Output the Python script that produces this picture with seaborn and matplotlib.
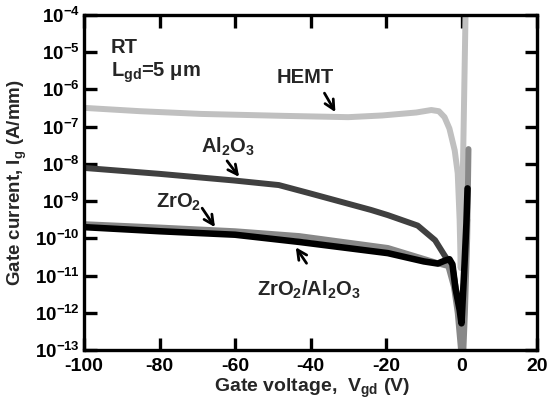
import matplotlib
matplotlib.use("Agg")
import matplotlib.pyplot as plt
import seaborn as sns
import pandas as pd
import numpy as np

# valores (V en voltios, I en A/mm)
v_hemt = [-100, -85, -69, -47, -30, -21, -12, -8, -6, -4.5, -3.2, -1.8, -1.0, -0.5, -0.2, 0.4, 1.1]
i_hemt = [3.2e-7, 2.6e-7, 2.2e-7, 1.95e-7, 1.8e-7, 2.0e-7, 2.4e-7, 2.8e-7, 2.6e-7,
          1.8e-7, 8.9e-8, 2.3e-8, 5.6e-9, 3.2e-10, 1.6e-11, 1e-8, 1.6e-4]

v_al2o3 = [-100, -80, -60.5, -48.4, -40, -24, -19.5, -11.6, -7, -4.5, -2.4, -1.5, -0.5, 0, 0.8, 1.5]
i_al2o3 = [7.8e-9, 5.4e-9, 3.6e-9, 2.7e-9, 1.6e-9, 5.8e-10, 4.2e-10, 2.2e-10, 8.9e-11,
           3.5e-11, 1.7e-11, 4.5e-12, 1.3e-12, 7.9e-13, 1e-11, 3.2e-10]

v_zro2 = [-100, -80, -60, -43, -19.5, -10, -6, -3.5, -2, -1, -0.3, 0.3, 0.9, 1.5, 1.85]
i_zro2 = [2.4e-10, 1.95e-10, 1.55e-10, 1.15e-10, 5.5e-11, 2.8e-11, 2.1e-11, 1.8e-11, 5.0e-12,
          1e-12, 1.6e-13, 3.2e-14, 1e-12, 1e-10, 2.5e-8]

v_stack = [-100, -80, -60, -43, -19.5, -10, -6.3, -4.5, -3.2, -2.4, -1.6, -0.5, 0, 0.4, 0.8, 1.3, 1.6]
i_stack = [2.0e-10, 1.55e-10, 1.25e-10, 8.0e-11, 4.0e-11, 2.4e-11, 2.1e-11, 2.5e-11, 2.75e-11,
           2.0e-11, 4.5e-12, 1.2e-12, 5.2e-13, 3.2e-12, 2.0e-11, 2.5e-10, 2.2e-9]

series = [
    ("HEMT", v_hemt, i_hemt, "#c0c0c0", 4.3),
    ("Al2O3", v_al2o3, i_al2o3, "#404040", 4.3),
    ("ZrO2", v_zro2, i_zro2, "#888888", 4.3),
    ("ZrO2/Al2O3", v_stack, i_stack, "#000000", 4.7),
]

sns.set_style("ticks")
plt.rcParams["font.family"] = ["Liberation Sans", "DejaVu Sans"]
plt.rcParams["font.weight"] = "bold"
plt.rcParams["axes.unicode_minus"] = False
plt.rcParams["mathtext.fontset"] = "custom"
plt.rcParams["mathtext.rm"] = "Liberation Sans:bold"
plt.rcParams["mathtext.it"] = "Liberation Sans:bold"
plt.rcParams["mathtext.bf"] = "Liberation Sans:bold"
plt.rcParams["mathtext.default"] = "rm"

fig = plt.figure(figsize=(5.49, 4.03), dpi=100)
ax = fig.add_axes([84 / 549, 1 - 350 / 403, 453 / 549, 335 / 403])

for name, v, i, col, lw in series:
    df = pd.DataFrame({"V": v, "I": i})
    sns.lineplot(data=df, x="V", y="I", color=col, lw=lw, sort=False, estimator=None, ax=ax)

ax.set_yscale("log")
ax.set_xlim(-100, 20)
ax.set_ylim(1e-13, 1e-4)
ax.set_xticks([-100, -80, -60, -40, -20, 0, 20])
ax.set_yticks([10.0 ** k for k in range(-13, -3)])
ax.yaxis.set_major_formatter(matplotlib.ticker.FuncFormatter(lambda y, p: r"$10^{%d}$" % round(np.log10(y))))
ax.yaxis.set_minor_locator(matplotlib.ticker.NullLocator())

for s in ax.spines.values():
    s.set_linewidth(2.4)
    s.set_color("black")
ax.tick_params(which="major", direction="in", length=9, width=2.4, top=True, right=True,
               pad=6, color="black", labelcolor="black")
ax.tick_params(axis="x", labelsize=14)
ax.tick_params(axis="y", labelsize=13.5, pad=3)

ax.set_xlabel("Gate voltage,  V$_{gd}$ (V)", fontsize=14, fontweight="bold")
ax.set_ylabel("Gate current, I$_g$ (A/mm)", fontsize=13.5, fontweight="bold")
ax.xaxis.set_label_coords(0.503, -0.08)
ax.yaxis.set_label_coords(-0.122, 0.5)

arrow = dict(arrowstyle="->", color="black", lw=2.0, mutation_scale=17, shrinkA=0, shrinkB=0)
txt = dict(fontsize=14.5, fontweight="bold")

ax.text(-92.9, 10 ** -4.86, "RT", va="center", ha="left", **txt)
ax.text(-92.9, 10 ** -5.55, r"L$_{gd}$=5 $\mu$m", va="center", ha="left", **txt)

ax.text(-41.3, 10 ** -5.67, "HEMT", ha="center", va="center", **txt)
ax.annotate("", xy=(-33.4, 10 ** -6.61), xytext=(-36.3, 10 ** -6.10), arrowprops=arrow)

ax.text(-68.9, 10 ** -7.55, r"Al$_2$O$_3$", ha="left", va="center", **txt)
ax.annotate("", xy=(-58.9, 10 ** -8.35), xytext=(-62.1, 10 ** -7.92), arrowprops=arrow)

ax.text(-80.8, 10 ** -9.03, r"ZrO$_2$", ha="left", va="center", **txt)
ax.annotate("", xy=(-65.3, 10 ** -9.70), xytext=(-68.7, 10 ** -9.19), arrowprops=arrow)

ax.text(-40.5, 10 ** -11.39, r"ZrO$_2$/Al$_2$O$_3$", ha="center", va="center", **txt)
ax.annotate("", xy=(-43.9, 10 ** -10.24), xytext=(-41.05, 10 ** -10.67), arrowprops=arrow)

fig.savefig("out.png", dpi=100)
